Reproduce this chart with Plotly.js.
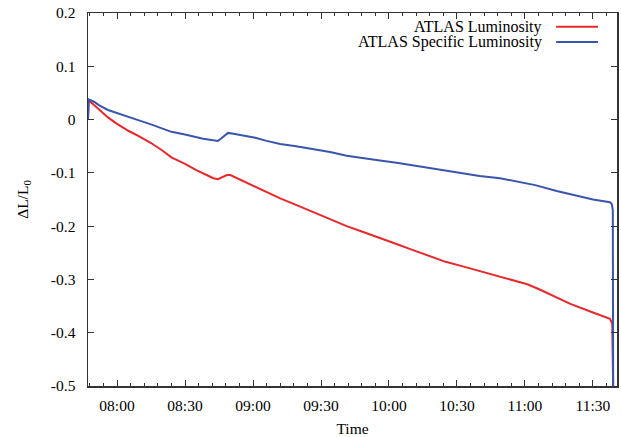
<!DOCTYPE html>
<html>
<head>
<meta charset="utf-8">
<script src="https://cdn.plot.ly/plotly-3.0.1.min.js"></script>
<style>html,body{margin:0;padding:0;background:#fff;}#chart{width:621px;height:437px;}</style>
</head>
<body>
<div id="chart"></div>
<script>
// ---- data ----
var day = '2012-05-01 ';
var lumiTimes = ['07:47:12','07:47:30','07:50:00','07:52:30','07:56:00','08:00:00','08:05:00','08:10:00','08:15:00','08:20:00','08:23:00','08:24:00','08:30:00','08:35:00','08:40:00','08:42:30','08:44:30','08:45:30','08:47:00','08:48:30','08:50:00','08:53:00','09:00:00','09:05:00','09:12:00','09:19:00','09:26:30','09:34:00','09:41:20','09:48:00','09:56:00','10:03:00','10:10:00','10:18:00','10:25:00','10:33:00','10:40:00','10:50:00','11:01:00','11:06:00','11:10:00','11:20:00','11:30:00','11:37:30','11:38:30','11:38:54'];
var lumiValues = [0.0,0.036,0.027,0.018,0.004,-0.008,-0.021,-0.032,-0.044,-0.058,-0.068,-0.071,-0.083,-0.095,-0.105,-0.110,-0.112,-0.110,-0.107,-0.104,-0.104,-0.110,-0.123,-0.133,-0.148,-0.160,-0.173,-0.187,-0.200,-0.210,-0.223,-0.233,-0.244,-0.256,-0.267,-0.276,-0.284,-0.296,-0.309,-0.318,-0.326,-0.346,-0.362,-0.374,-0.383,-0.500];
var specTimes = ['07:47:12','07:47:30','07:50:00','07:52:00','07:56:00','08:00:00','08:04:00','08:10:00','08:15:00','08:20:00','08:23:00','08:24:00','08:30:00','08:38:00','08:42:30','08:44:30','08:45:30','08:47:30','08:49:00','08:52:00','08:57:00','09:01:00','09:06:00','09:12:00','09:19:00','09:26:30','09:34:00','09:41:20','09:48:40','09:56:00','10:03:20','10:10:40','10:18:00','10:25:30','10:33:00','10:40:00','10:49:00','10:58:00','11:04:30','11:14:00','11:24:20','11:30:00','11:37:30','11:38:20','11:38:45','11:38:54'];
var specValues = [0.0,0.038,0.033,0.027,0.018,0.012,0.007,-0.002,-0.009,-0.017,-0.021,-0.023,-0.028,-0.036,-0.039,-0.040,-0.037,-0.030,-0.025,-0.027,-0.031,-0.034,-0.040,-0.046,-0.050,-0.055,-0.061,-0.068,-0.073,-0.077,-0.081,-0.086,-0.091,-0.096,-0.101,-0.106,-0.110,-0.117,-0.123,-0.134,-0.145,-0.150,-0.155,-0.159,-0.170,-0.500];
var seriesNames = ['ATLAS Luminosity','ATLAS Specific Luminosity'];
var seriesColors = ['#e8282b','#3a55ad'];
var yTickVals = [0.2,0.1,0,-0.1,-0.2,-0.3,-0.4,-0.5];
var yTickText = ['0.2','0.1','0','-0.1','-0.2','-0.3','-0.4','-0.5'];
var xRange = ['07:47:12','11:40:36'];

function toDate(t){ return day + t; }

var traces = [
  {x: lumiTimes.map(toDate), y: lumiValues, type:'scatter', mode:'lines', name: seriesNames[0],
   line:{color: seriesColors[0], width:2}, showlegend:false},
  {x: specTimes.map(toDate), y: specValues, type:'scatter', mode:'lines', name: seriesNames[1],
   line:{color: seriesColors[1], width:2}, showlegend:false}
];

var family = '"Liberation Serif", "DejaVu Serif", serif';
var font = {family:family, size:15.5, color:'#000'};
var legFont = {family:family, size:16, color:'#000'};

var layout = {
  width:621, height:437,
  margin:{l:88, r:4, t:13, b:51},
  paper_bgcolor:'#fff', plot_bgcolor:'#fff',
  font: font,
  showlegend:false,
  xaxis:{
    type:'date', range: xRange.map(toDate),
    tick0: toDate('08:00:00'), dtick: 1800000, tickformat:'%H:%M',
    ticks:'inside', ticklen:6, tickwidth:1, tickcolor:'#333',
    minor:{dtick:360000, ticks:'inside', ticklen:3, tickcolor:'#333', showgrid:false},
    showline:true, linecolor:'#333', linewidth:1.5, mirror:'ticks',
    showgrid:false, zeroline:false, ticklabelstandoff:5,
    title:{text:'Time', font: font, standoff:10}
  },
  yaxis:{
    range:[-0.5,0.2], tickvals:yTickVals, ticktext:yTickText,
    ticks:'inside', ticklen:6, tickwidth:1, tickcolor:'#333',
    showline:true, linecolor:'#333', linewidth:1.5, mirror:'ticks',
    showgrid:false, zeroline:false, ticklabelstandoff:8,
    title:{text:'ΔL/L<sub>0</sub>', font: font, standoff:18}
  },
  annotations:[
    {xref:'paper', yref:'paper', x:0.862, y:0.963, xanchor:'right', yanchor:'middle', text:seriesNames[0], showarrow:false, font:legFont},
    {xref:'paper', yref:'paper', x:0.862, y:0.922, xanchor:'right', yanchor:'middle', text:seriesNames[1], showarrow:false, font:legFont}
  ],
  shapes:[
    {type:'line', xref:'paper', yref:'paper', x0:0.885, x1:0.964, y0:0.963, y1:0.963, line:{color:seriesColors[0], width:2}},
    {type:'line', xref:'paper', yref:'paper', x0:0.885, x1:0.964, y0:0.922, y1:0.922, line:{color:seriesColors[1], width:2}}
  ]
};

Plotly.newPlot('chart', traces, layout, {staticPlot:true, displayModeBar:false});
</script>
</body>
</html>
